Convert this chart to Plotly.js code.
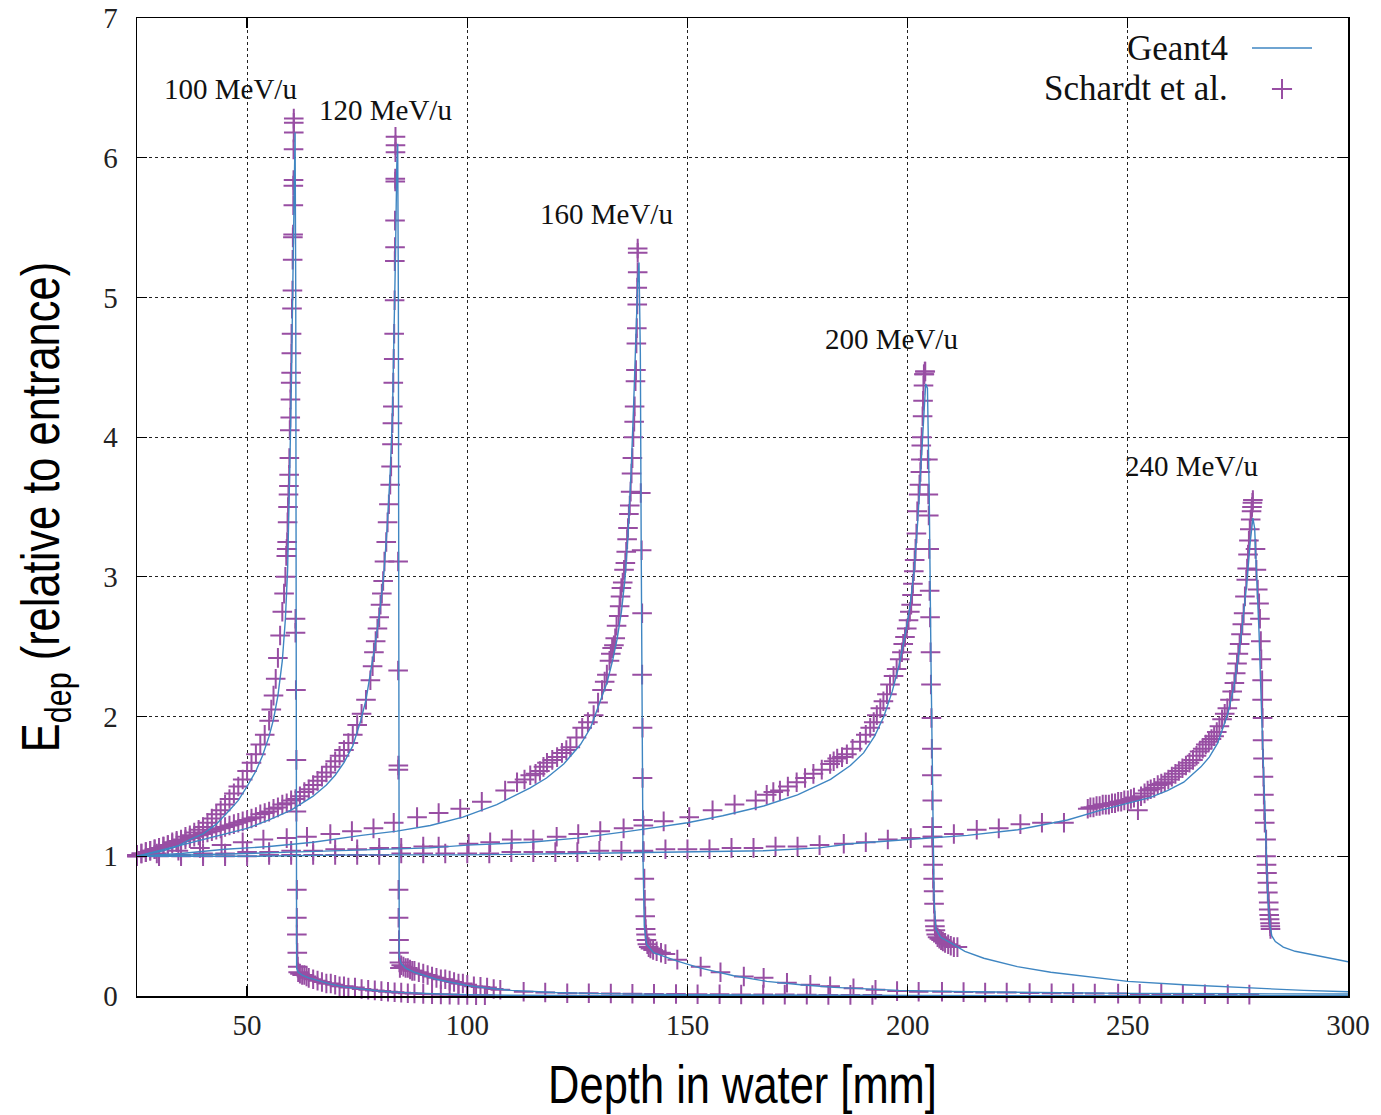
<!DOCTYPE html>
<html><head><meta charset="utf-8">
<script src="https://cdn.plot.ly/plotly-3.0.1.min.js"></script>
<style>html,body{margin:0;padding:0;background:#fff;}#chart{width:1381px;height:1115px;}</style>
</head><body><div id="chart"></div>
<script>
// ---------- data ----------
const energyLabels = ['100 MeV/u', '120 MeV/u', '160 MeV/u', '200 MeV/u', '240 MeV/u'];
const xTickVals = [50, 100, 150, 200, 250, 300];
const yTickVals = [0, 1, 2, 3, 4, 5, 6, 7];

// Geant4 simulation curves
const g100x = [25,28,31,34,37,40,43,46,48,50,52,53.5,55,56,57,58,58.7,59.2,59.6,59.9,60.2,60.5,60.75,60.9,61.05,61.15,61.25,61.6,62.5,64,66,69,72,76,80,85,90,95,100,110,130,160,200,300];
const g100y = [1.0,1.02,1.04,1.07,1.12,1.16,1.23,1.33,1.40,1.50,1.61,1.72,1.86,1.98,2.15,2.40,2.7,3.05,3.55,4.1,4.7,5.4,6.0,6.18,5.0,2.0,0.2,0.17,0.15,0.13,0.11,0.085,0.065,0.048,0.036,0.026,0.018,0.013,0.009,0.005,0.003,0.002,0.001,0.0];

const g120x = [25,30,35,40,45,50,55,60,65,68,70,72,74,75.8,77,78,79,80,81,81.8,82.5,83,83.4,83.7,84.0,84.2,84.35,84.45,84.55,85,86,88,90,93,96,100,105,110,120,130,150,180,220,300];
const g120y = [1.0,1.04,1.08,1.12,1.16,1.20,1.26,1.33,1.43,1.51,1.58,1.67,1.79,1.97,2.12,2.30,2.50,2.72,3.0,3.35,3.75,4.15,4.7,5.3,5.95,6.1,5.0,2.0,0.28,0.23,0.2,0.17,0.15,0.12,0.1,0.075,0.055,0.04,0.025,0.017,0.01,0.006,0.003,0.001];

const g160x = [25,35,45,55,65,76,84,91.6,99,106.7,114.3,118,121.9,125.7,128,129.5,131.7,133,134,135,135.8,136.5,137.2,137.8,138.3,138.7,139.0,139.3,139.5,139.7,139.9,140.2,140.7,142.3,145,147.7,153,160.5,168,175.7,183.3,190,198,210,230,250,275,300];
const g160y = [1.0,1.02,1.05,1.07,1.1,1.15,1.18,1.22,1.28,1.37,1.49,1.56,1.66,1.80,1.92,2.05,2.24,2.4,2.55,2.75,2.98,3.3,3.75,4.25,4.75,5.1,5.25,4.6,3.2,2.0,1.0,0.5,0.37,0.31,0.28,0.25,0.20,0.145,0.105,0.08,0.062,0.05,0.04,0.032,0.024,0.019,0.016,0.014];

const g200x = [25,40,50,60,70,80,91.6,100,114.3,125,137,150,158,167.3,175,182.5,187,190,192.5,194.6,196.5,198,199.3,200.5,201.5,202.3,203,203.6,204.1,204.5,204.9,205.3,205.7,206.0,206.4,207.5,209.8,213,217.3,221,224.9,232.5,240,250,262.7,278,290,300];
const g200y = [1.0,1.01,1.02,1.03,1.04,1.05,1.06,1.08,1.10,1.13,1.18,1.24,1.29,1.36,1.44,1.55,1.65,1.74,1.86,2.0,2.18,2.36,2.56,2.78,3.05,3.4,3.8,4.15,4.38,4.35,3.6,2.4,1.3,0.7,0.48,0.42,0.38,0.32,0.27,0.24,0.21,0.17,0.14,0.105,0.08,0.055,0.04,0.03];

const g240x = [25,50,75,100,125,150,167.3,180,187,200.2,213.6,225,236.3,243.9,250.2,255,259,262.7,266.6,268.5,270.4,272.7,274,275,276,277,277.8,278.4,278.8,279.3,279.8,280.3,280.8,281.3,281.8,282.3,282.7,283.5,285.3,288,293,300];
const g240y = [1.0,1.0,1.01,1.01,1.02,1.03,1.04,1.06,1.09,1.12,1.15,1.19,1.26,1.33,1.38,1.42,1.47,1.53,1.64,1.71,1.81,2.02,2.2,2.4,2.65,2.95,3.25,3.42,3.35,3.0,2.6,2.1,1.6,1.1,0.7,0.5,0.43,0.39,0.35,0.32,0.29,0.245];

// Schardt et al. measurements
const s100x = [25,26,27,28,29,30,31,32,33,34,35,36,37,38,39,40,41,42,43,44,45,46,47,48,49,50,51,52,53,54,55,55.5,56,56.5,57,57.5,58,58.4,58.7,
  58.9,59.0,59.1,59.2,59.3,59.4,59.5,59.55,59.6,59.7,59.8,59.85,59.9,60.0,60.05,60.1,60.2,60.3,60.35,60.4,60.45,60.5,60.5,60.55,60.55,60.6,60.6,60.6,
  61.0,61.0,61.1,61.2,61.2,61.3,61.3,61.3,61.4,61.5,61.6,
  62,62.5,63,63.5,64,65,66,67,68,69,70,71,72,73,74.5,76,77.5,79,80.5,82,83.5,85,86.5,88,90,92,94,96,98,100,102,104];
const s100y = [1.01,1.02,1.03,1.04,1.05,1.06,1.07,1.08,1.10,1.11,1.12,1.14,1.15,1.17,1.19,1.21,1.24,1.27,1.30,1.33,1.37,1.41,1.45,1.50,1.55,1.61,1.67,1.73,1.80,1.87,1.97,2.05,2.15,2.27,2.42,2.58,2.75,2.88,3.0,
  3.15,3.2,3.25,3.39,3.5,3.59,3.65,3.73,3.85,4.05,4.14,4.27,4.39,4.46,4.6,4.74,4.92,5.05,5.27,5.43,5.45,5.66,5.8,5.84,6.06,6.18,6.25,6.28,
  2.70,2.60,2.19,1.69,1.32,0.76,0.56,0.44,0.31,0.21,0.17,
  0.16,0.15,0.15,0.14,0.13,0.12,0.11,0.10,0.09,0.09,0.08,0.07,0.07,0.06,0.06,0.05,0.045,0.04,0.035,0.03,0.027,0.024,0.02,0.018,0.015,0.013,0.011,0.01,0.008,0.007,0.006,0.005];

const s120x = [25,26,27,28,29,30,31,32,33,34,35,36,37,38,39,40,41,42,43,44,45,46,47,48,49,50,51,52,53,54,55,56,57,58,59,60,61,62,63,64,65,66,67,68,69,70,71,72,73,74,75,76,77,78,
  78.5,78.8,79.2,79.6,80.0,80.3,80.6,80.9,81.2,81.6,81.9,82.2,82.5,82.7,82.9,83.0,83.1,83.2,83.3,83.4,83.5,83.55,83.6,83.6,83.65,83.65,83.7,83.7,83.7,
  84.3,84.3,84.35,84.35,84.4,84.4,84.5,84.5,84.6,84.7,
  85,85.5,86,86.5,87,87.5,88,89,90,91,92,93,94,95,96,97,98,99,100,101.5,103,104.5,106,107.5,112.8,117.7,122.7,127.6,132.6,137.5,142.4,147.4,152.3,157.3,162.2,167.2,172.1,177.1,182,187,192];
const s120y = [1.01,1.02,1.03,1.04,1.05,1.06,1.07,1.08,1.09,1.10,1.11,1.12,1.13,1.14,1.15,1.16,1.17,1.18,1.19,1.20,1.21,1.22,1.23,1.24,1.25,1.26,1.27,1.28,1.30,1.31,1.32,1.34,1.35,1.37,1.38,1.40,1.41,1.43,1.46,1.48,1.51,1.54,1.57,1.60,1.64,1.68,1.72,1.76,1.81,1.87,1.94,2.02,2.12,2.26,
  2.36,2.46,2.54,2.63,2.71,2.80,2.88,2.97,3.11,3.25,3.39,3.52,3.66,3.79,3.95,4.10,4.22,4.39,4.56,4.74,4.98,5.26,5.36,5.55,5.83,5.85,6.04,6.09,6.15,
  3.11,2.33,1.65,1.62,0.76,0.56,0.40,0.31,0.24,0.20,
  0.22,0.21,0.20,0.20,0.19,0.18,0.18,0.17,0.16,0.15,0.14,0.13,0.12,0.12,0.11,0.10,0.09,0.09,0.08,0.07,0.065,0.06,0.05,0.045,0.03,0.025,0.02,0.02,0.018,0.016,0.015,0.014,0.013,0.012,0.011,0.01,0.01,0.009,0.008,0.008,0.007];

const s160x = [25,29.5,34.4,39.3,44.2,49,53.7,59,63.6,68.9,73.8,78.7,83.3,88.6,93.5,98.4,103.3,108.6,111.3,113,114.3,115.5,116.5,117.3,118.1,119.3,120.4,121.5,122.5,123.4,124.8,126.1,127.4,128.7,129.7,130.6,131.2,131.7,132.3,132.6,132.9,133.3,133.6,133.9,134.4,134.6,134.8,135.0,135.3,135.6,135.9,136.1,136.3,136.5,136.7,136.9,137.1,137.3,137.5,137.7,137.9,138.0,138.2,138.3,138.4,138.5,138.6,138.6,138.7,138.7,138.7,
  139.4,139.6,139.7,139.7,139.8,139.8,139.9,140.0,140.2,140.3,140.4,140.5,140.6,140.7,140.9,141.2,141.6,142.2,143,144,145,
  147.7,153,157.5,162.8,167.3,172.6,177.9,182.4,187.7,192.7,197.6,202.5,207.8,212.7,217.6,222.5,227.7,232.7,237.6,242.5,247.8,252.7,257.6,262.5,267.5,272.7,277.6];
const s160y = [1.0,1.02,1.04,1.06,1.08,1.10,1.12,1.13,1.14,1.16,1.18,1.20,1.24,1.28,1.31,1.34,1.39,1.47,1.53,1.55,1.58,1.59,1.61,1.64,1.67,1.69,1.71,1.74,1.76,1.78,1.85,1.92,1.96,2.01,2.1,2.19,2.25,2.30,2.4,2.45,2.49,2.51,2.56,2.65,2.72,2.79,2.86,2.92,2.96,3.05,3.1,3.18,3.27,3.35,3.45,3.51,3.61,3.74,3.85,4.0,4.11,4.22,4.40,4.48,4.67,4.78,4.95,5.07,5.18,5.32,5.35,
  3.60,3.19,2.74,2.30,1.92,1.56,1.26,1.03,0.84,0.69,0.57,0.48,0.44,0.40,0.37,0.35,0.34,0.33,0.32,0.31,0.30,
  0.26,0.21,0.17,0.14,0.13,0.095,0.08,0.07,0.055,0.045,0.035,0.03,0.03,0.028,0.025,0.025,0.022,0.02,0.02,0.018,0.017,0.015,0.015,0.014,0.013,0.012,0.01];

const s200x = [25,30,35,40,45,50,55,60,65,70,75,80,85,90,93.5,100.3,105.2,110.1,115,120.3,125.2,130.2,135.5,140,144.6,150.4,155.7,160.7,165.5,168,169.5,171,172.8,174.8,176.7,178.6,180.5,182.4,183.2,184,185.1,186.2,187.5,189.2,190.5,191.5,192.3,193,193.8,194.5,195.3,196,196.8,197.5,198.2,198.7,199,199.4,199.8,200.2,200.5,200.8,201,201.2,201.4,201.6,201.8,202,202.2,202.5,202.7,202.9,203,203.1,203.2,203.4,203.5,203.6,203.7,203.8,203.9,204.0,
  204.6,204.7,204.8,204.9,205.0,205.1,205.2,205.3,205.4,205.5,205.5,205.6,205.6,205.7,205.7,205.8,205.8,205.9,206.0,206.1,206.2,206.3,206.5,206.8,207.2,207.6,208.0,208.5,209.2,209.8,210.5,211.3];
const s200y = [1.0,1.01,1.01,1.02,1.02,1.03,1.03,1.04,1.04,1.05,1.05,1.06,1.06,1.07,1.07,1.09,1.10,1.12,1.12,1.14,1.16,1.18,1.20,1.22,1.25,1.28,1.33,1.37,1.40,1.44,1.46,1.47,1.50,1.53,1.56,1.59,1.62,1.66,1.68,1.70,1.71,1.73,1.77,1.82,1.87,1.92,1.96,2.01,2.06,2.11,2.16,2.23,2.29,2.34,2.41,2.46,2.52,2.57,2.63,2.69,2.75,2.80,2.87,2.95,3.04,3.12,3.20,3.31,3.47,3.59,3.66,3.75,3.84,3.94,4.0,4.15,4.26,4.37,4.45,4.45,4.47,4.47,
  3.84,3.59,3.44,3.2,2.9,2.71,2.46,2.23,1.99,1.77,1.58,1.40,1.21,1.14,1.07,0.94,0.84,0.75,0.66,0.54,0.50,0.47,0.44,0.42,0.41,0.40,0.39,0.38,0.37,0.36,0.35,0.35];

const s240x = [25,30,35,40,45,50,55,60,65,70,75,80,85,90,95,100,105,110,115,120,125,130,135,140,145,150,155,160,165,170,175,180,185.5,190.5,195.5,200.7,205.6,210.5,215.7,220.7,225.6,230.5,235.5,
  240.9,241.5,242.2,242.9,243.6,244.3,245,245.7,246.4,247.1,247.8,248.5,249.2,250,250.7,251.4,252.3,253,253.8,254.5,255.2,256,256.8,257.6,258.4,259.2,260,260.8,261.6,262.4,263.2,264,264.8,265.6,266.3,267,267.7,268.4,269,269.6,270.2,270.8,271.4,272,272.6,273.2,273.7,274.2,274.5,274.8,275.1,275.4,275.7,276.0,276.3,276.6,276.9,277.1,277.3,277.5,277.7,277.9,278.1,278.2,278.3,278.4,
  279.0,279.2,279.5,279.8,280.0,280.2,280.3,280.5,280.5,280.6,280.6,280.7,280.8,280.9,281.0,281.1,281.4,281.4,281.5,281.6,281.7,281.8,282.0,282.0,282.1,282.2,282.3,282.35,282.4];
const s240y = [1.0,1.0,1.0,1.0,1.0,1.0,1.01,1.01,1.01,1.01,1.01,1.01,1.02,1.02,1.02,1.02,1.02,1.03,1.03,1.03,1.03,1.04,1.04,1.04,1.05,1.05,1.05,1.06,1.06,1.07,1.07,1.08,1.09,1.10,1.12,1.13,1.14,1.16,1.19,1.20,1.23,1.24,1.24,
  1.34,1.35,1.35,1.36,1.36,1.37,1.37,1.37,1.38,1.38,1.39,1.39,1.40,1.40,1.41,1.42,1.33,1.43,1.45,1.47,1.48,1.49,1.51,1.52,1.53,1.55,1.57,1.59,1.61,1.63,1.65,1.67,1.69,1.72,1.75,1.77,1.80,1.82,1.84,1.86,1.89,1.93,1.98,2.02,2.06,2.12,2.18,2.24,2.31,2.38,2.45,2.52,2.59,2.66,2.74,2.86,2.98,3.06,3.16,3.26,3.34,3.41,3.47,3.50,3.53,3.55,
  3.2,3.05,2.91,2.81,2.70,2.54,2.41,2.26,2.12,1.99,1.83,1.70,1.57,1.44,1.33,1.24,1.12,1.0,0.94,0.88,0.81,0.74,0.67,0.62,0.58,0.55,0.52,0.50,0.48];

// ---------- drawing ----------
const PURPLE = '#984ea3';
const BLUE = '#3f86c2';
const simX = [g100x, g120x, g160x, g200x, g240x];
const simY = [g100y, g120y, g160y, g200y, g240y];
const expX = [s100x, s120x, s160x, s200x, s240x];
const expY = [s100y, s120y, s160y, s200y, s240y];

const traces = [];
energyLabels.forEach((lab, i) => {
  traces.push({
    type: 'scatter', mode: 'markers', name: 'Schardt et al. ' + lab,
    x: expX[i], y: expY[i], showlegend: false, cliponaxis: false,
    marker: {symbol: 'cross-thin-open', size: 14, color: PURPLE, line: {color: PURPLE, width: 2}}
  });
});
energyLabels.forEach((lab, i) => {
  traces.push({
    type: 'scatter', mode: 'lines', name: 'Geant4 ' + lab,
    x: simX[i], y: simY[i], showlegend: false,
    line: {color: BLUE, width: 1.4}
  });
});

const serif = 'Liberation Serif, DejaVu Serif, serif';
const sans = 'Liberation Sans, Arial, sans-serif';

// label anchor positions (layout)
const labelPos = [[46.25, 6.49], [81.5, 6.34], [131.6, 5.60], [196.4, 4.70], [264.5, 3.79]];
const annotations = energyLabels.map((lab, i) => ({
  text: lab, x: labelPos[i][0], y: labelPos[i][1], xref: 'x', yref: 'y',
  showarrow: false, xanchor: 'center', yanchor: 'middle',
  font: {family: serif, size: 29, color: '#111'}
}));
// legend drawn as in the reference: text, then the sample
annotations.push({text: 'Geant4', x: 0.9026, y: 0.969, xref: 'paper', yref: 'paper', showarrow: false,
  xanchor: 'right', yanchor: 'middle', font: {family: serif, size: 35, color: '#111'}});
annotations.push({text: 'Schardt et al.', x: 0.9026, y: 0.928, xref: 'paper', yref: 'paper', showarrow: false,
  xanchor: 'right', yanchor: 'middle', font: {family: serif, size: 35, color: '#111'}});

const shapes = [
  {type: 'line', xref: 'paper', yref: 'paper', x0: 0.9207, x1: 0.9703, y0: 0.9693, y1: 0.9693, line: {color: BLUE, width: 1.4}},
  {type: 'line', xref: 'paper', yref: 'paper', x0: 0.9455 - 0.0083, x1: 0.9455 + 0.0083, y0: 0.9274, y1: 0.9274, line: {color: PURPLE, width: 2}},
  {type: 'line', xref: 'paper', yref: 'paper', x0: 0.9455, x1: 0.9455, y0: 0.9274 - 0.0102, y1: 0.9274 + 0.0102, line: {color: PURPLE, width: 2}}
];

const axisCommon = {
  showline: true, linecolor: '#000', linewidth: 1.5, mirror: 'ticks',
  ticks: 'inside', ticklen: 10, tickwidth: 1.2, tickcolor: '#000',
  showgrid: true, gridcolor: '#222', gridwidth: 1, griddash: '3px,3px',
  zeroline: false, tickfont: {family: serif, size: 29, color: '#222'}
};

const layout = {
  width: 1381, height: 1115,
  margin: {l: 137, r: 33, t: 18, b: 119},
  paper_bgcolor: '#fff', plot_bgcolor: '#fff',
  showlegend: false,
  xaxis: Object.assign({}, axisCommon, {
    range: [25, 300], tickmode: 'array', tickvals: xTickVals,
    ticklabelstandoff: 3,
    title: {text: 'Depth in water [mm]', font: {family: sans, size: 53, color: '#000'}, standoff: 25}
  }),
  yaxis: Object.assign({}, axisCommon, {
    range: [0, 7], tickmode: 'array', tickvals: yTickVals,
    ticklabelstandoff: 12,
    title: {text: 'E<sub>dep</sub> (relative to entrance)', font: {family: sans, size: 53, color: '#000'}, standoff: 26}
  }),
  annotations: annotations,
  shapes: shapes
};

// narrow the sans titles horizontally (Arial Narrow look)
function narrowTitles(gd) {
  const s = 0.82;
  ['.xtitle', '.ytitle'].forEach(sel => {
    const el = gd.querySelector(sel);
    if (!el) return;
    const x = parseFloat(el.getAttribute('x')), y = parseFloat(el.getAttribute('y'));
    const t = el.getAttribute('transform') || '';
    el.setAttribute('transform', (t + ' translate(' + x + ',' + y + ') scale(' + s + ',1) translate(' + (-x) + ',' + (-y) + ')').trim());
  });
}

Plotly.newPlot('chart', traces, layout, {displayModeBar: false, staticPlot: true}).then(narrowTitles);
</script>
</body></html>
